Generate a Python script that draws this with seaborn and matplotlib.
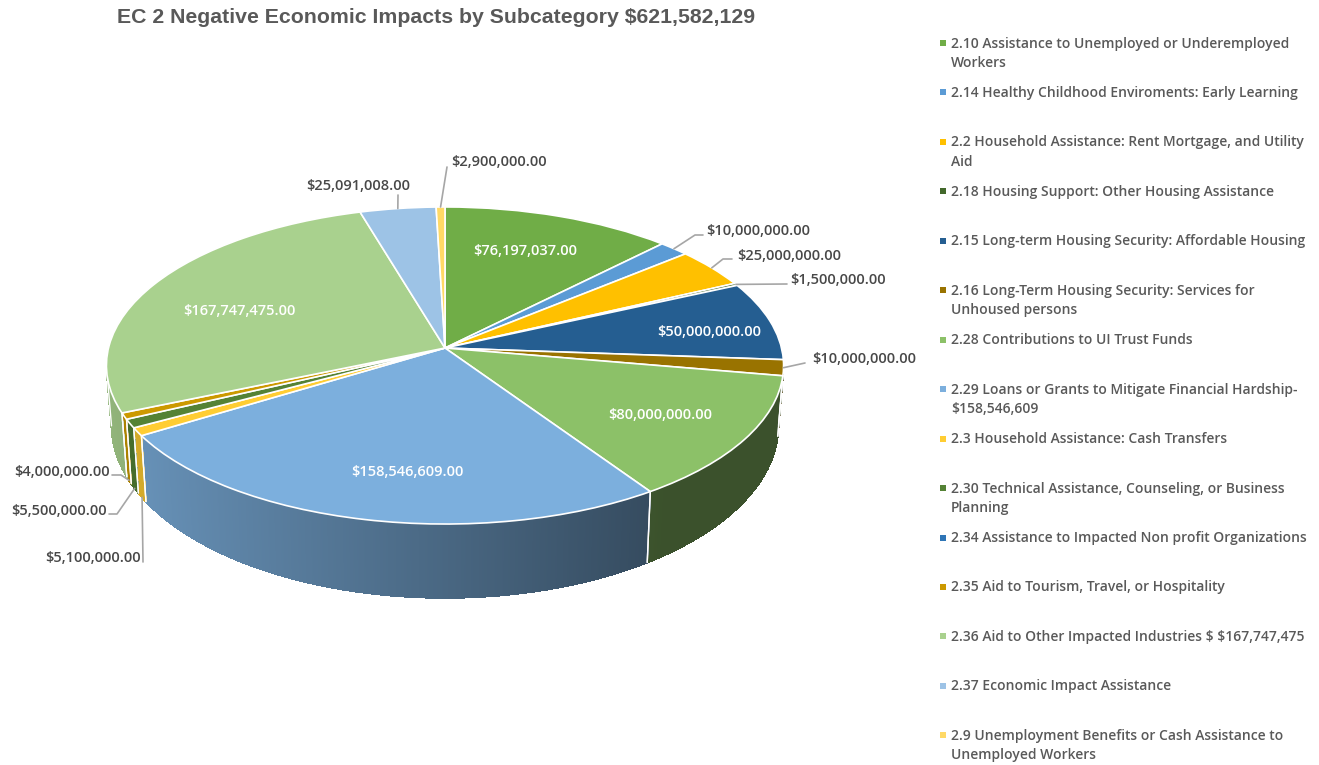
import numpy as np
import matplotlib
matplotlib.use("Agg")
import matplotlib.pyplot as plt
from matplotlib.collections import PolyCollection
from matplotlib.transforms import Transform
import seaborn as sns

# Data
title = "EC 2 Negative Economic Impacts by Subcategory $621,582,129"
categories = [
    "2.10 Assistance to Unemployed or Underemployed\nWorkers",
    "2.14 Healthy Childhood Enviroments: Early Learning",
    "2.2 Household Assistance: Rent Mortgage, and Utility\nAid",
    "2.18 Housing Support: Other Housing Assistance",
    "2.15 Long-term Housing Security: Affordable Housing",
    "2.16 Long-Term Housing Security: Services for\nUnhoused persons",
    "2.28 Contributions to UI Trust Funds",
    "2.29 Loans or Grants to Mitigate Financial Hardship-\n$158,546,609",
    "2.3 Household Assistance: Cash Transfers",
    "2.30 Technical Assistance, Counseling, or Business\nPlanning",
    "2.34 Assistance to Impacted Non profit Organizations",
    "2.35 Aid to Tourism, Travel, or Hospitality",
    "2.36 Aid to Other Impacted Industries $ $167,747,475",
    "2.37 Economic Impact Assistance",
    "2.9 Unemployment Benefits or Cash Assistance to\nUnemployed Workers",
]
values = [76197037, 10000000, 25000000, 1500000, 50000000, 10000000, 80000000,
          158546609, 5100000, 5500000, 0, 4000000, 167747475, 25091008, 2900000]
colors = ["#70AD47", "#5B9BD5", "#FFC000", "#43682B", "#255E91", "#997300", "#8CC168",
          "#7CAFDD", "#FFCD33", "#548235", "#2E75B6", "#CC9900", "#A9D18E", "#9DC3E6", "#FFD966"]

sns.set_theme(style="white")
plt.rcParams["font.family"] = ["Open Sans", "DejaVu Sans"]
TEXT = "#595959"
LABEL = "#484848"

# Pie geometry in image pixels (tilted disc seen in perspective)
CX, CY = 445, 348
RX, RY, TILT = 336.5, 156.6, 0.1104


def project(x, y):
    d = 1 + TILT * y
    return CX + RX * x / d, CY - RY * y / d


def project_base(x, y):
    # lower rim of the disc
    px, py = project(x, y)
    return CX + 0.985 * (px - CX), CY + 58 + 1.09 * (py - CY)


class Tilted(Transform):
    input_dims = 2
    output_dims = 2
    is_separable = False
    has_inverse = False

    def transform_non_affine(self, xy):
        xy = np.asarray(xy)
        return np.column_stack(project(xy[:, 0], xy[:, 1]))


def rim(theta, base=False):
    t = np.radians(theta)
    return (project_base if base else project)(np.cos(t), np.sin(t))


fig = plt.figure(figsize=(13.19, 7.65), dpi=100)
ax = fig.add_axes([0, 0, 1, 1])

shown = [i for i, v in enumerate(values) if v > 0]
wedges, _ = ax.pie([values[i] for i in shown], colors=[colors[i] for i in shown],
                   startangle=90, counterclock=False,
                   wedgeprops={"edgecolor": "white", "linewidth": 1.2, "zorder": 3})
ax.set_aspect("auto")
ax.set_xlim(0, 1319)
ax.set_ylim(765, 0)
ax.axis("off")
for w in wedges:
    w.set_transform(Tilted() + ax.transData)

# Side wall, shaded from left to right
for w in wedges:
    th = np.linspace(w.theta1, w.theta2, max(int((w.theta2 - w.theta1) * 4), 2) + 1)
    th = th[np.sin(np.radians(th)) < -TILT]
    if len(th) < 2:
        continue
    tx, ty = rim(th)
    bx, by = rim(th, base=True)
    strips = [[(tx[i], ty[i]), (tx[i + 1], ty[i + 1]), (bx[i + 1], by[i + 1]), (bx[i], by[i])]
              for i in range(len(th) - 1)]
    shade = np.interp(np.cos(np.radians(th[:-1])), [-1, 0.6, 1], [0.87, 0.42, 0.42])
    base = np.array(matplotlib.colors.to_rgb(w.get_facecolor()))
    fc = [tuple(base * s) for s in shade]
    ax.add_collection(PolyCollection(strips, facecolors=fc, edgecolors=fc, linewidths=0.6,
                                     antialiaseds=False, zorder=1))
    for end in (0, -1):
        ax.plot([tx[end], bx[end]], [ty[end], by[end]], color="white", lw=1, zorder=2)

# Value labels inside the pie
inside = {0: (525, 250), 4: (709, 331), 6: (660, 414), 7: (407, 471), 12: (239, 310)}
for i, (x, y) in inside.items():
    ax.text(x, y + 1, f"${values[i]:,.2f}", color="white", fontsize=10.55, fontweight="semibold",
            ha="center", va="center", zorder=5, parse_math=False)

# Value labels with leader lines: text position, elbow points, on lower rim or not
outside = {
    1: ((706, 230), [(695, 235), (703, 235)], False),
    2: ((737, 255), [(723, 259), (732, 259)], False),
    3: ((790, 279), [(787, 284)], False),
    5: ((812, 358), [(805, 363)], False),
    8: ((45, 557), [(143, 562)], True),
    9: ((11, 510), [(117, 514), (109, 514)], True),
    11: ((14, 471), [(121, 475), (112, 475)], True),
    13: ((306, 185), [(398, 195)], False),
    14: ((451, 161), [(447, 167)], False),
}
for i, ((x, y), elbow, low) in outside.items():
    w = wedges[shown.index(i)]
    sx, sy = rim((w.theta1 + w.theta2) / 2, base=low)
    pts = [(float(sx), float(sy))] + elbow
    ax.plot(*zip(*pts), color="#A6A6A6", lw=1.2, zorder=4)
    ax.text(x, y + 1, f"${values[i]:,.2f}", color=LABEL, fontsize=10.55, fontweight="semibold",
            ha="left", va="center", zorder=5, parse_math=False)

# Legend column
for i, (name, col) in enumerate(zip(categories, colors)):
    y = 43 + 49.45 * i
    ax.fill([940, 946, 946, 940], [y - 3, y - 3, y + 3, y + 3], color=col, lw=0, zorder=5)
    ax.text(951, y - 6.5, name, color=TEXT, fontsize=9.97, fontweight="semibold",
            ha="left", va="top", linespacing=1.5, zorder=5, parse_math=False)

ax.text(117, 17, title, color=TEXT, fontsize=15.3, fontweight="bold",
        family="Liberation Sans", ha="left", va="center", parse_math=False)

fig.savefig("out.png", dpi=100)
